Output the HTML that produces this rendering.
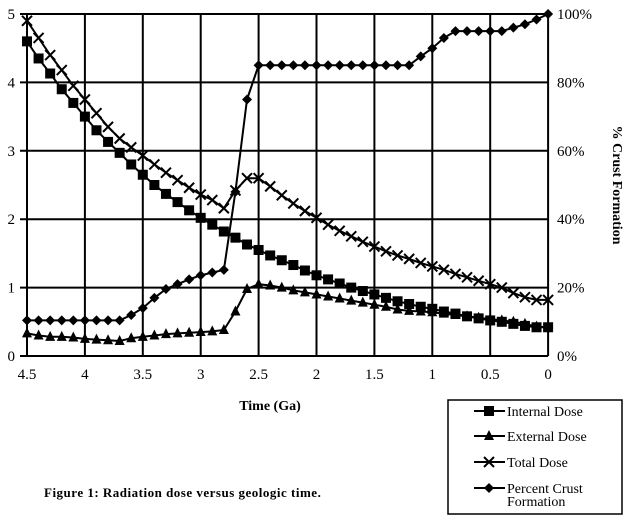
<!DOCTYPE html><html><head><style>body{margin:0;background:#fff}svg{display:block}text{font-family:"Liberation Serif",serif;fill:#000}</style></head><body>
<svg id="s" width="640" height="528" viewBox="0 0 640 528" xmlns="http://www.w3.org/2000/svg"></svg>
<script>
const X=t=>27+(4.5-t)*115.8, Y=v=>356-v*68.4;
let h='';
for(let i=0;i<=9;i++){const x=X(4.5-i*0.5);h+=`<line x1="${x}" y1="14" x2="${x}" y2="356" stroke="#000" stroke-width="2"/>`;}
for(let v=0;v<=5;v++){const y=Y(v);h+=`<line x1="20" y1="${y}" x2="548" y2="${y}" stroke="#000" stroke-width="2"/>`;
h+=`<text x="15" y="${y+5}" font-size="15" text-anchor="end">${v}</text>`;
h+=`<text x="557" y="${y+5}" font-size="15">${v*20}%</text>`;}
const xl=['4.5','4','3.5','3','2.5','2','1.5','1','0.5','0'];
xl.forEach((l,i)=>{h+=`<text x="${X(4.5-i*0.5)}" y="379" font-size="15" text-anchor="middle">${l}</text>`;});
h+=`<text x="270" y="410" font-size="14" font-weight="bold" text-anchor="middle">Time (Ga)</text>`;
h+=`<text transform="translate(613,185) rotate(90)" font-size="14" font-weight="bold" text-anchor="middle">% Crust Formation</text>`;
h+=`<text x="44" y="497" font-size="13" font-weight="bold" letter-spacing="0.5">Figure 1: Radiation dose versus geologic time.</text>`;
const ts=[];for(let i=0;i<=45;i++)ts.push(+(4.5-i*0.1).toFixed(1));
const internal=[4.6,4.35,4.13,3.9,3.7,3.5,3.3,3.13,2.97,2.8,2.65,2.5,2.37,2.25,2.13,2.02,1.92,1.82,1.73,1.63,1.55,1.47,1.4,1.33,1.25,1.18,1.12,1.06,1.0,0.95,0.9,0.85,0.8,0.76,0.72,0.69,0.65,0.62,0.58,0.55,0.52,0.5,0.47,0.44,0.42,0.42];
const total=[4.9,4.65,4.4,4.18,3.95,3.75,3.55,3.35,3.18,3.05,2.93,2.8,2.68,2.57,2.46,2.36,2.28,2.16,2.42,2.6,2.6,2.48,2.35,2.23,2.12,2.02,1.92,1.83,1.75,1.67,1.6,1.53,1.47,1.42,1.36,1.31,1.26,1.2,1.15,1.1,1.05,1.0,0.92,0.86,0.82,0.82];
const ext=[0.33,0.3,0.28,0.28,0.27,0.25,0.24,0.23,0.22,0.26,0.28,0.3,0.32,0.33,0.34,0.35,0.36,0.38,0.65,0.98,1.05,1.03,1.0,0.96,0.93,0.9,0.87,0.84,0.81,0.78,0.75,0.72,0.68,0.66,0.65,0.64,0.62,0.6,0.58,0.56,0.54,0.52,0.5,0.47,0.43,0.42];
const crust=[0.52,0.52,0.52,0.52,0.52,0.52,0.52,0.52,0.52,0.6,0.7,0.85,0.98,1.05,1.12,1.18,1.22,1.26,2.4,3.75,4.25,4.25,4.25,4.25,4.25,4.25,4.25,4.25,4.25,4.25,4.25,4.25,4.25,4.25,4.38,4.5,4.65,4.75,4.75,4.75,4.75,4.75,4.8,4.85,4.92,5.0];
function line(d){return `<polyline fill="none" stroke="#000" stroke-width="2" points="${d.map((v,i)=>X(ts[i]).toFixed(1)+','+Y(v).toFixed(1)).join(' ')}"/>`;}
function mk(type,x,y){
 if(type==0)return `<rect x="${x-5}" y="${y-5}" width="10" height="10"/>`;
 if(type==1)return `<polygon points="${x},${y-6} ${x-5},${y+4} ${x+5},${y+4}"/>`;
 if(type==2)return `<path d="M${x-5} ${y-5}L${x+5} ${y+5}M${x+5} ${y-5}L${x-5} ${y+5}" stroke="#000" stroke-width="2"/>`;
 return `<polygon points="${x},${y-5} ${x+5},${y} ${x},${y+5} ${x-5},${y}"/>`;}
[internal,ext,total,crust].forEach((d,k)=>{h+=line(d);d.forEach((v,i)=>{h+=mk(k,X(ts[i]),Y(v));});});
h+=`<rect x="448" y="400" width="174" height="114" fill="#fff" stroke="#000" stroke-width="1.5"/>`;
const L=[['Internal Dose',411],['External Dose',436],['Total Dose',462],['Percent Crust',488]];
L.forEach((e,k)=>{h+=`<line x1="474" y1="${e[1]}" x2="505" y2="${e[1]}" stroke="#000" stroke-width="2"/>`+mk(k,489,e[1]);
h+=`<text x="507" y="${e[1]+5}" font-size="14">${e[0]}</text>`;});
h+=`<text x="507" y="506" font-size="14">Formation</text>`;
document.getElementById('s').innerHTML=h;
</script></body></html>
